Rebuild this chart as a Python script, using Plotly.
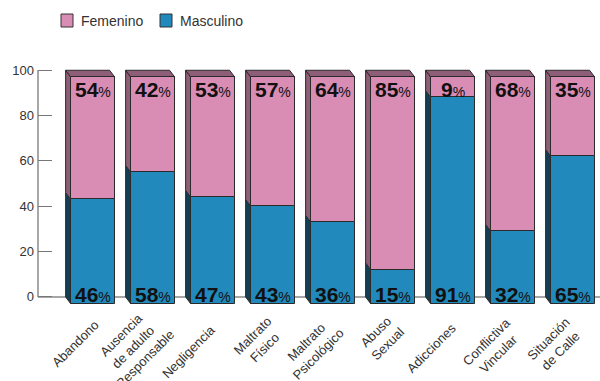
import plotly.graph_objects as go

categories = ["Abandono", "Ausencia<br>de adulto<br>Responsable", "Negligencia",
              "Maltrato<br>Físico", "Maltrato<br>Psicológico", "Abuso<br>Sexual",
              "Adicciones", "Conflictiva<br>Vincular", "Situación<br>de Calle"]
femenino = [54, 42, 53, 57, 64, 85, 9, 68, 35]
masculino = [46, 58, 47, 43, 36, 15, 91, 32, 65]
y_ticks = [0, 20, 40, 60, 80, 100]

PINK = "#d98cb4"
BLUE = "#2189bb"
PINK_DARK = "#8e5d77"
BLUE_DARK = "#123f56"
EDGE = "#2a2a2a"

# layout geometry (pixels)
ML, MT, MB = 38, 68, 75
PW, PH = 600 - ML, 381 - MT - MB
XR = [-0.912, 8.455]
YR = [-4, 101]
PX_PER_X = PW / (XR[1] - XR[0])
PX_PER_Y = PH / (YR[1] - YR[0])

W = 0.733      # bar front width (category units)
DX = 0.085     # depth offset x
DY = 3.0       # depth offset y (value units)

xs = list(range(len(categories)))

fig = go.Figure()
fig.add_bar(x=xs, y=masculino, base=[-DY] * len(xs), width=W, name="Masculino",
            marker=dict(color=BLUE, line=dict(color=EDGE, width=1)), showlegend=False)
fig.add_bar(x=xs, y=femenino, base=[m - DY for m in masculino], width=W, name="Femenino",
            marker=dict(color=PINK, line=dict(color=EDGE, width=1)), showlegend=False)

shapes = []
shapes.append(dict(type="line", xref="paper", yref="y", x0=0, x1=1, y0=0, y1=0,
                   line=dict(color="#8a8a8a", width=1.5), layer="below"))
shapes.append(dict(type="line", xref="paper", yref="y", x0=0, x1=0, y0=0, y1=100,
                   line=dict(color="#8a8a8a", width=1.5), layer="below"))

def poly(pts, color):
    d = "M" + " L".join(f"{px},{py}" for px, py in pts) + " Z"
    return dict(type="path", xref="x", yref="y", path=d, fillcolor=color,
                line=dict(color=EDGE, width=1), layer="below")

for i, m, f in zip(xs, masculino, femenino):
    xl = i - W / 2
    xr = i + W / 2
    top = m + f
    shapes.append(poly([(xl, -DY), (xl, m - DY), (xl - DX, m), (xl - DX, 0)], BLUE_DARK))
    shapes.append(poly([(xl, m - DY), (xl, top - DY), (xl - DX, top), (xl - DX, m)], PINK_DARK))
    shapes.append(poly([(xl, top - DY), (xr, top - DY), (xr - DX, top), (xl - DX, top)], PINK_DARK))

annotations = []
num = "<b>{}</b><span style='font-size:14px'>%</span>"
for i, m, f in zip(xs, masculino, femenino):
    annotations.append(dict(x=i, y=m + f - DY, xref="x", yref="y", text=num.format(f),
                            showarrow=False, yanchor="top", xanchor="center", yshift=1,
                            font=dict(family="Liberation Sans, Arial", size=21, color="#111")))
    annotations.append(dict(x=i, y=-DY, xref="x", yref="y", text=num.format(m),
                            showarrow=False, yanchor="bottom", xanchor="center", yshift=-4,
                            font=dict(family="Liberation Sans, Arial", size=21, color="#111")))

# rotated, centre-aligned category labels
CHAR_PX = 6.7
for i, lab in enumerate(categories):
    lines = lab.split("<br>")
    mean_len = sum(len(s) for s in lines) / len(lines) * CHAR_PX
    off = mean_len / 2 / 2 ** 0.5
    cx_px = 2 - off
    cy_px = 325 + off
    annotations.append(dict(x=i + cx_px / PX_PER_X, y=(MT + PH - cy_px) / PH,
                            xref="x", yref="paper", text=lab, textangle=-45, align="center",
                            showarrow=False, xanchor="center", yanchor="middle",
                            font=dict(family="Liberation Sans, Arial", size=13, color="#333")))

# legend (drawn manually)
leg = [("Femenino", PINK, 61, 79), ("Masculino", BLUE, 160, 178)]
for name, col, sx, tx in leg:
    shapes.append(dict(type="rect", xref="paper", yref="paper",
                       x0=(sx - ML) / PW, x1=(sx + 12 - ML) / PW,
                       y0=(MT + PH - 27) / PH, y1=(MT + PH - 14) / PH,
                       fillcolor=col, line=dict(color="#333", width=1)))
    annotations.append(dict(x=(tx - ML) / PW, y=(MT + PH - 20.5) / PH, xref="paper", yref="paper",
                            text=name, showarrow=False, xanchor="left", yanchor="middle",
                            font=dict(family="Liberation Sans, Arial", size=14, color="#333")))

fig.update_layout(
    width=600, height=381,
    margin=dict(l=ML, r=0, t=MT, b=MB, autoexpand=False),
    plot_bgcolor="white", paper_bgcolor="white",
    bargap=0, barmode="overlay",
    shapes=shapes, annotations=annotations,
    showlegend=False,
    font=dict(family="Liberation Sans, Arial", color="#333"),
)
fig.update_xaxes(range=XR, tickvals=xs, showticklabels=False,
                 showgrid=False, zeroline=False, showline=False, ticks="", automargin=False)
fig.update_yaxes(range=YR, tickvals=y_ticks, showgrid=False, zeroline=False,
                 showline=False, ticks="inside", ticklen=14, tickcolor="#777",
                 ticklabelstandoff=3, automargin=False,
                 tickfont=dict(size=13, color="#333"))

fig.write_html("out.html")
